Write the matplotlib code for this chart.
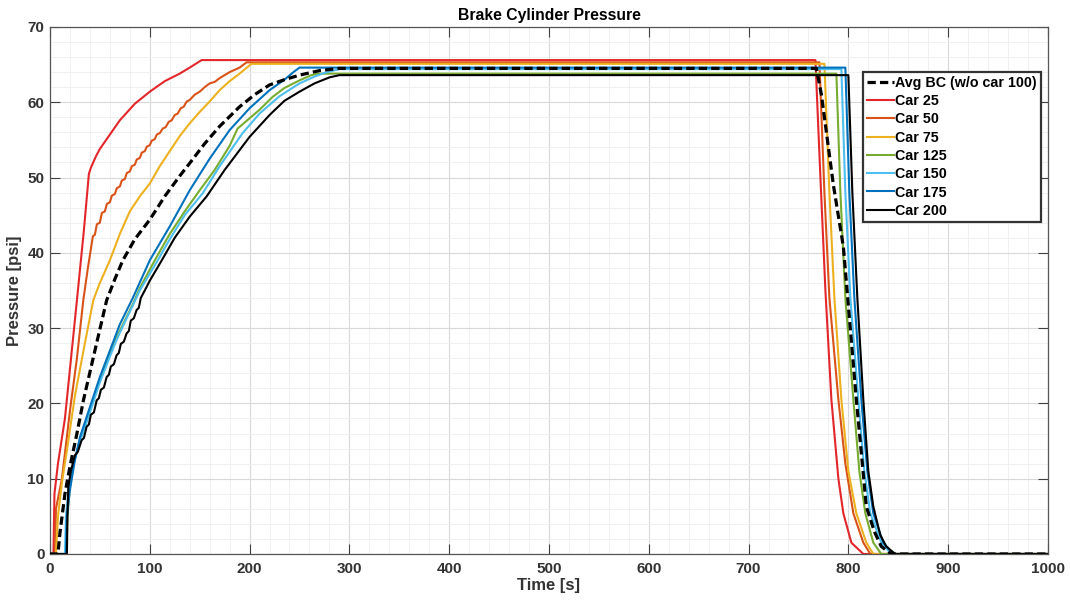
import matplotlib.pyplot as plt
from matplotlib.ticker import MultipleLocator

plt.rcParams['font.family'] = ['Liberation Sans', 'DejaVu Sans']

# time [s] and pressure [psi] per series
avg_t = [0, 8, 10, 15, 20, 27, 33.5, 45, 56.8, 65, 73, 85, 100, 115, 130, 140, 155, 170, 190, 205,
         220, 235, 250, 270, 290, 768, 773, 778, 785, 795, 808, 818, 826, 833, 843, 1000]
avg_p = [0, 0, 2.8, 8, 11.6, 16, 20.4, 27, 33.7, 36.5, 39, 41.8, 44.4, 47.5, 50.2, 51.9, 54.5, 56.8, 59.4, 61,
         62.3, 63, 63.6, 64.2, 64.5, 64.5, 61, 56, 49, 40.8, 20.5, 6.3, 3, 1, 0, 0]

car25_t = [0, 3.5, 4.5, 8, 15, 27, 34, 39, 41, 46, 50, 60, 70, 85, 100, 115, 130, 140, 152,
           767, 772, 777, 783, 790, 795, 803, 815, 1000]
car25_p = [0, 0, 8, 12, 18, 33.7, 43, 50.5, 51.3, 52.8, 53.8, 55.7, 57.6, 59.8, 61.4, 62.8, 63.8, 64.6, 65.6,
           65.6, 50, 35, 20.5, 10, 5.4, 1.5, 0, 0]

car50_t = [0, 5, 6, 12, 20, 27, 33.4, 38, 43, 45, 47, 50, 52, 55, 57, 60, 62, 65, 67, 70, 72, 75, 77, 80,
           82, 85, 87, 90, 92, 95, 97, 100, 102, 105, 107, 110, 113, 116, 119, 122, 125, 128, 131, 134,
           137, 140, 145, 150, 155, 160, 165, 170, 180, 190, 197,
           771, 776, 781, 790, 797, 805, 815, 822, 1000]
car50_p = [0, 0, 6, 10, 19, 26, 33.7, 38, 42.2, 42.4, 43.8, 44.0, 45.3, 45.5, 46.5, 46.7, 47.6, 47.8, 48.6,
           48.8, 49.6, 49.8, 50.6, 50.8, 51.5, 51.7, 52.4, 52.6, 53.3, 53.5, 54.1, 54.3, 54.9, 55.1, 55.7,
           55.9, 56.5, 56.7, 57.4, 57.6, 58.3, 58.5, 59.2, 59.4, 60.1, 60.3, 61.0, 61.4, 62.0, 62.5, 62.7,
           63.2, 64.0, 64.6, 65.3,
           65.3, 48, 34, 20.5, 12, 5.4, 1.5, 0, 0]

car75_t = [0, 6, 8, 12, 17, 25, 35, 43.4, 50, 60, 70, 80, 90, 100, 110, 120, 130, 140, 150, 160, 170,
           180, 190, 200, 202, 776, 781, 786, 793, 800, 808, 818, 825, 1000]
car75_p = [0, 0, 5, 9.5, 13.8, 21, 28, 33.7, 36, 39, 42.5, 45.5, 47.5, 49.2, 51.5, 53.5, 55.5, 57.2, 58.7,
           60.1, 61.6, 62.8, 63.8, 64.9, 65.1, 65.1, 48, 34, 20.5, 11, 5.4, 1.5, 0, 0]

car125_t = [0, 16.5, 17.5, 20, 23, 26.7, 30, 35, 40, 43.5, 48, 53.5, 60, 67, 75, 83.5, 90, 105, 120, 135,
            150, 165, 180, 188, 195, 210, 223, 235, 250, 262, 268,
            788, 792, 797, 805, 811, 817, 825, 833, 1000]
car125_p = [0, 0, 5, 9, 12, 13.4, 15.1, 17, 19, 20.4, 22.5, 24.4, 26.6, 28.8, 31, 33.3, 35.3, 39, 42.5, 45.5,
            48.3, 51, 54.2, 56.5, 57.3, 59, 60.7, 61.9, 62.9, 63.6, 63.8,
            63.8, 48, 34, 20.5, 11, 5.4, 1.5, 0, 0]

car150_t = [0, 15, 16, 19, 22, 26, 30, 35, 40, 45, 50, 55, 60, 67, 75, 83, 90, 108, 120, 135, 153, 170,
            193, 210, 230, 250, 265, 275, 290, 793, 797, 802, 810, 816, 822, 833, 843, 1000]
car150_p = [0, 0, 5, 9, 11, 13, 15, 16.8, 18.8, 20.8, 22.8, 24.5, 26.2, 28.5, 30.8, 33, 35, 39, 41.8, 45,
            47.9, 51.5, 55.9, 58.5, 60.8, 62.5, 63.4, 63.9, 64.4, 64.4, 48, 34, 20.5, 11, 5.4, 1.5, 0, 0]

car175_t = [0, 16, 17, 20, 25, 30, 40, 50, 60, 70, 83, 100, 120, 140, 160, 180, 200, 220, 235, 244, 250,
            797, 801, 806, 813, 819, 825, 835, 845, 1000]
car175_p = [0, 0, 5, 8.5, 12.5, 15.5, 19.5, 23.5, 27, 30.5, 34, 39, 43.5, 48.3, 52.5, 56.3, 59.2, 61.6, 63,
            64, 64.6, 64.6, 48, 34, 20.5, 11, 5.4, 1.5, 0, 0]

car200_t = [0, 17, 17.5, 18.4, 21, 25, 28, 31.7, 34, 36.7, 39, 41, 44, 46.8, 49, 51, 54, 56.8, 59, 61, 64,
            66.8, 69, 71, 74, 76.8, 79, 81, 84, 86.8, 89, 91, 95, 100, 112, 125, 140, 157, 175, 200, 220,
            235, 250, 265, 280, 290, 800, 804, 809, 815, 820, 825, 832, 838, 847, 1000]
car200_p = [0, 0, 5, 8.9, 11, 13.1, 13.6, 15.1, 15.4, 16.9, 17.2, 18.5, 18.8, 20.4, 20.7, 21.8, 22.1, 23.5,
            23.8, 24.9, 25.2, 26.4, 26.7, 27.9, 28.2, 29.3, 29.6, 31, 31.3, 32.4, 32.7, 34, 35, 36.3, 39, 42,
            44.8, 47.5, 51, 55.4, 58.3, 60.2, 61.4, 62.5, 63.3, 63.6, 63.6, 48, 34, 20.5, 11, 6.3, 2.5, 1,
            0, 0]

fig = plt.figure(figsize=(10.7, 6.03), dpi=100)
ax = fig.add_axes([0.0467, 0.0813, 0.9327, 0.874])

l_avg, = ax.plot(avg_t, avg_p, color='black', lw=2.3, ls='--', dashes=(2.6, 1.3), zorder=5)
l25, = ax.plot(car25_t, car25_p, color='#E3262A', lw=1.5)
l50, = ax.plot(car50_t, car50_p, color='#D95319', lw=1.5)
l75, = ax.plot(car75_t, car75_p, color='#EDB120', lw=1.5)
l125, = ax.plot(car125_t, car125_p, color='#77AC30', lw=1.5)
l150, = ax.plot(car150_t, car150_p, color='#4DBEEE', lw=1.5)
l175, = ax.plot(car175_t, car175_p, color='#0072BD', lw=1.5)
l200, = ax.plot(car200_t, car200_p, color='black', lw=1.5)

ax.set_xlim(0, 1000)
ax.set_ylim(0, 70)
ax.xaxis.set_major_locator(MultipleLocator(100))
ax.xaxis.set_minor_locator(MultipleLocator(20))
ax.yaxis.set_major_locator(MultipleLocator(10))
ax.yaxis.set_minor_locator(MultipleLocator(2))
ax.grid(which='major', color='#d9d9d9', lw=0.8)
ax.grid(which='minor', color='#eeeeee', lw=0.6)
ax.set_axisbelow(True)

ax.tick_params(which='major', direction='in', length=7, width=0.8, color='#404040',
               top=True, right=True, labelsize=11, labelcolor='#333333')
ax.tick_params(axis='y', pad=4)
ax.tick_params(axis='x', pad=6)
ax.tick_params(which='minor', length=0)
for lab in ax.get_xticklabels() + ax.get_yticklabels():
    lab.set_fontweight('bold')
for sp in ax.spines.values():
    sp.set_color('#555555')
    sp.set_linewidth(0.9)

ax.set_title('Brake Cylinder Pressure', fontsize=11.3, fontweight='bold', pad=5)
ax.set_xlabel('Time [s]', fontsize=12, fontweight='bold', color='#333333', labelpad=1)
ax.set_ylabel('Pressure [psi]', fontsize=12, fontweight='bold', color='#333333', labelpad=4)

leg = ax.legend([l_avg, l25, l50, l75, l125, l150, l175, l200],
                ['Avg BC (w/o car 100)', 'Car 25', 'Car 50', 'Car 75', 'Car 125',
                 'Car 150', 'Car 175', 'Car 200'],
                loc='upper right', bbox_to_anchor=(0.993, 0.915), fancybox=False, framealpha=1,
                edgecolor='#333333', prop={'weight': 'bold', 'size': 10.3}, handlelength=1.9,
                handletextpad=0.1, labelspacing=0.3, borderpad=0.28, borderaxespad=0)
leg.get_frame().set_linewidth(1.6)

fig.savefig('out.png', dpi=100)
